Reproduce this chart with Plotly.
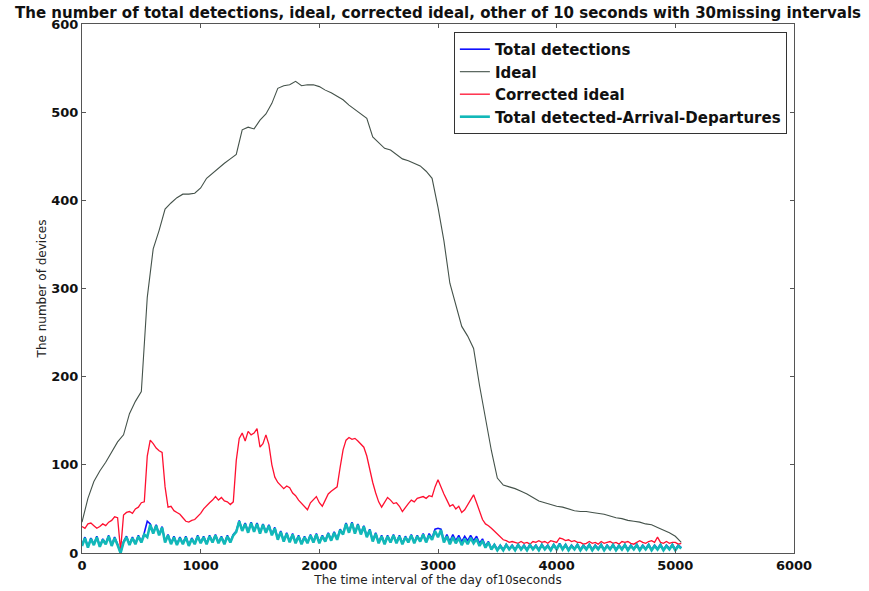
import plotly.graph_objects as go

# ---- data ----
ideal_step = 50
ideal = [35, 62, 81, 93, 103, 114, 126, 134, 158, 172, 183, 290, 345, 366, 390, 397,
         403, 407, 407, 408, 414, 425, 431, 437, 442, 447, 452, 480, 483, 481, 491, 498,
         510, 527, 530, 531, 535, 530, 531, 531, 529, 525, 522, 518, 514, 508, 503, 497,
         493, 472, 465, 459, 457, 452, 447, 445, 442, 439, 433, 425, 392, 354, 306, 280,
         257, 246, 232, 190, 152, 116, 85, 77, 75, 73, 70, 67, 63, 59, 57, 55,
         53, 52, 50, 48, 47, 47, 46, 45, 44, 42, 40, 39, 37, 36, 35, 33,
         32, 29, 26, 23, 19, 12]

step = 25
corrected = [30, 28, 33, 34, 31, 28, 30, 33, 31, 35, 37, 41, 40, 3, 43, 46,
             47, 45, 50, 52, 57, 58, 110, 128, 124, 119, 116, 114, 75, 52, 53, 48,
             46, 44, 40, 36, 35, 37, 38, 41, 45, 50, 54, 57, 60, 64, 60, 63,
             59, 58, 55, 58, 105, 130, 136, 127, 138, 134, 136, 141, 120, 124, 134, 123,
             100, 86, 80, 76, 73, 76, 74, 68, 65, 60, 56, 52, 49, 57, 60, 64,
             57, 53, 60, 67, 70, 73, 75, 97, 117, 128, 131, 129, 130, 127, 124, 120,
             110, 94, 80, 68, 58, 52, 58, 63, 60, 56, 57, 53, 47, 52, 56, 60,
             58, 62, 63, 64, 62, 65, 64, 75, 83, 74, 67, 60, 53, 55, 50, 53,
             46, 49, 55, 60, 66, 57, 48, 38, 33, 31, 28, 25, 22, 19, 15, 14,
             12, 13, 12, 11, 13, 11, 12, 10, 13, 12, 14, 12, 13, 11, 14, 13,
             12, 17, 16, 14, 15, 13, 14, 12, 12, 10, 11, 13, 11, 12, 10, 13,
             11, 12, 13, 11, 12, 10, 13, 12, 13, 11, 10, 12, 14, 12, 11, 13,
             14, 12, 18, 12, 11, 13, 11, 12, 12, 10, 11]

other = [8, 17, 6, 16, 9, 18, 7, 15, 10, 19, 8, 17, 9, 0, 12, 18,
         9, 17, 10, 19, 12, 21, 18, 32, 22, 31, 20, 29, 12, 20, 10, 18,
         9, 17, 10, 18, 8, 16, 10, 19, 11, 18, 10, 19, 12, 20, 11, 18,
         10, 19, 12, 20, 24, 36, 25, 33, 23, 34, 24, 33, 22, 32, 23, 31,
         20, 28, 15, 24, 13, 22, 12, 21, 11, 19, 10, 18, 11, 20, 12, 21,
         11, 19, 13, 22, 14, 23, 15, 26, 21, 33, 23, 34, 22, 32, 21, 30,
         18, 26, 13, 22, 11, 19, 10, 19, 12, 20, 11, 19, 10, 18, 12, 20,
         11, 19, 13, 21, 12, 20, 15, 25, 18, 26, 12, 19, 10, 18, 11, 17,
         9, 16, 10, 17, 11, 16, 8, 14, 6, 12, 4, 9, 3, 8, 3, 9,
         4, 8, 3, 9, 4, 8, 3, 9, 4, 8, 3, 9, 4, 8, 3, 9,
         4, 10, 4, 9, 3, 8, 4, 9, 3, 8, 4, 9, 3, 8, 4, 9,
         3, 8, 4, 9, 3, 8, 4, 9, 3, 8, 4, 9, 3, 8, 4, 9,
         3, 8, 4, 9, 3, 8, 4, 9, 3, 8, 5]

total = [9, 18, 7, 17, 10, 19, 8, 16, 11, 20, 9, 18, 10, 0, 13, 19,
         10, 18, 11, 20, 13, 23, 36, 33, 23, 32, 21, 30, 13, 21, 11, 19,
         10, 18, 11, 19, 9, 17, 11, 20, 12, 19, 11, 20, 13, 21, 12, 19,
         11, 20, 13, 21, 25, 37, 26, 34, 24, 35, 25, 34, 23, 33, 24, 32,
         21, 29, 16, 25, 14, 23, 13, 22, 12, 20, 11, 19, 12, 21, 13, 22,
         12, 20, 14, 23, 15, 24, 16, 27, 22, 34, 24, 35, 23, 33, 22, 31,
         19, 27, 14, 23, 12, 20, 11, 20, 13, 21, 12, 20, 11, 19, 13, 21,
         12, 20, 14, 22, 13, 22, 17, 27, 28, 27, 14, 21, 13, 21, 14, 20,
         13, 19, 14, 20, 14, 19, 11, 16, 8, 13, 5, 10, 4, 9, 4, 10,
         5, 9, 4, 10, 5, 9, 4, 10, 5, 9, 4, 10, 5, 9, 4, 10,
         5, 11, 5, 10, 4, 9, 5, 10, 4, 9, 5, 10, 4, 9, 5, 10,
         4, 9, 5, 10, 4, 9, 5, 10, 4, 9, 5, 10, 4, 9, 5, 10,
         4, 9, 5, 10, 4, 9, 5, 10, 4, 9, 6]

x_ticks = [0, 1000, 2000, 3000, 4000, 5000, 6000]
y_ticks = [0, 100, 200, 300, 400, 500, 600]

names = ["Total detections", "Ideal", "Corrected ideal", "Total detected-Arrival-Departures"]
title = "The number of total detections, ideal, corrected ideal, other of 10 seconds with 30missing intervals"
x_label = "The time interval of the day of10seconds"
y_label = "The number of devices"

x_ideal = [i * ideal_step for i in range(len(ideal))]
x_corr = [i * step for i in range(len(corrected))]
x_other = [i * step for i in range(len(other))]
x_total = [i * step for i in range(len(total))]

fig = go.Figure()
fig.add_trace(go.Scatter(x=x_total, y=total, mode="lines", name=names[0],
                         line=dict(color="#1010ff", width=1.6)))
fig.add_trace(go.Scatter(x=x_ideal, y=ideal, mode="lines", name=names[1],
                         line=dict(color="#44524a", width=1.1)))
fig.add_trace(go.Scatter(x=x_corr, y=corrected, mode="lines", name=names[2],
                         line=dict(color="#ff1030", width=1.3)))
fig.add_trace(go.Scatter(x=x_other, y=other, mode="lines", name=names[3],
                         line=dict(color="#12b8b8", width=2.6)))

tickfont = dict(family="DejaVu Sans", size=13, color="#111", weight="bold")
axis_common = dict(showline=True, linecolor="#555", linewidth=1, mirror="ticks",
                   ticks="inside", ticklen=4, tickcolor="#555", showgrid=False,
                   zeroline=False, tickfont=tickfont, automargin=False)

fig.update_layout(
    width=869, height=591,
    margin=dict(l=82, r=75, t=24, b=38),
    paper_bgcolor="white", plot_bgcolor="white",
    title=dict(text=title, x=0.5, xref="paper", y=0.978, yref="container",
               yanchor="middle", xanchor="center",
               font=dict(family="DejaVu Sans", size=15, color="#111", weight="bold")),
    xaxis=dict(range=[0, 6000], tickvals=x_ticks, ticktext=[str(v) for v in x_ticks],
               title=dict(text=x_label, standoff=4,
                          font=dict(family="DejaVu Sans", size=12, color="#222")),
               **axis_common),
    yaxis=dict(range=[0, 600], tickvals=y_ticks, ticktext=[str(v) for v in y_ticks],
               title=dict(text=y_label, standoff=2,
                          font=dict(family="DejaVu Sans", size=12, color="#222")),
               **axis_common),
    legend=dict(x=0.99, xanchor="right", y=0.985, yanchor="top",
                bgcolor="white", bordercolor="#333", borderwidth=1,
                itemwidth=30, tracegroupgap=0,
                font=dict(family="DejaVu Sans", size=15, color="#111", weight="bold")),
    showlegend=True,
)

fig.write_html("out.html")
